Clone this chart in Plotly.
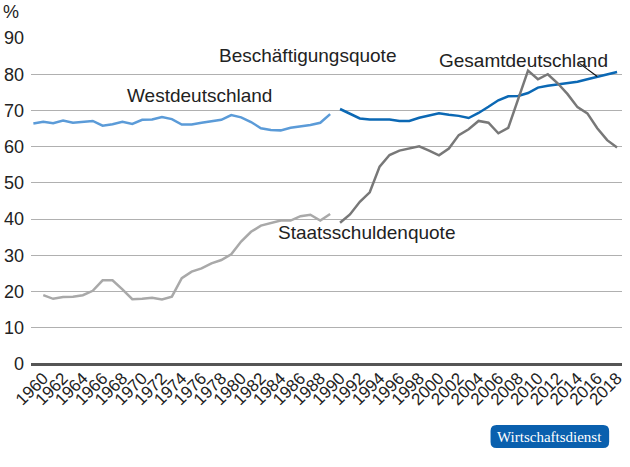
import plotly.graph_objects as go

# ---- data ----
years_west_emp = list(range(1959, 1990))
emp_west = [66.4, 66.9, 66.5, 67.2, 66.6, 66.9, 67.1, 65.8, 66.2, 66.9, 66.3, 67.4, 67.5, 68.2, 67.6,
            66.1, 66.1, 66.6, 67.0, 67.4, 68.7, 68.1, 66.8, 65.1, 64.6, 64.5, 65.2, 65.5, 66.0, 66.6, 69.0]

years_west_debt = list(range(1960, 1990))
debt_west = [19.0, 18.0, 18.5, 18.6, 19.0, 20.2, 23.1, 23.1, 20.6, 17.9, 18.0, 18.3, 17.8, 18.6, 23.7,
             25.5, 26.4, 27.8, 28.7, 30.3, 33.8, 36.5, 38.2, 39.0, 39.6, 39.6, 40.8, 41.2, 39.6, 41.4]

years_all = list(range(1990, 2019))
emp_all = [70.4, 69.2, 67.8, 67.5, 67.6, 67.5, 67.1, 67.1, 68.0, 68.7, 69.2, 68.8, 68.5, 67.9, 69.3,
           71.0, 72.8, 73.9, 74.0, 74.8, 76.3, 76.8, 77.1, 77.6, 77.9, 78.6, 79.3, 80.0, 80.6]
debt_all = [39.0, 41.3, 44.8, 47.4, 54.5, 57.7, 58.9, 59.5, 60.1, 58.9, 57.6, 59.5, 63.2, 64.8, 67.1,
            66.6, 63.7, 65.2, 72.9, 81.0, 78.6, 80.0, 77.5, 74.5, 70.9, 69.2, 65.1, 61.8, 59.8]

tick_years = list(range(1960, 2019, 2))
tick_labels = [str(y) for y in tick_years]

# ---- figure ----
W, H = 630, 467
ML, MR, MT, MB = 28, 4, 38, 103
TXT = "#222222"
FONT = "Liberation Sans, Arial, sans-serif"

fig = go.Figure()
fig.add_trace(go.Scatter(x=years_west_emp, y=emp_west, mode="lines",
                         line=dict(color="#5b9bd8", width=2.5), hoverinfo="skip"))
fig.add_trace(go.Scatter(x=years_west_debt, y=debt_west, mode="lines",
                         line=dict(color="#a9a9a9", width=2.5), hoverinfo="skip"))
fig.add_trace(go.Scatter(x=years_all, y=emp_all, mode="lines",
                         line=dict(color="#0b68b4", width=2.5), hoverinfo="skip"))
fig.add_trace(go.Scatter(x=years_all, y=debt_all, mode="lines",
                         line=dict(color="#787878", width=2.5), hoverinfo="skip"))

def ann(text, x, y, size=19, **kw):
    fig.add_annotation(text=text, x=x, y=y, xref="x", yref="y", showarrow=False,
                       font=dict(family=FONT, size=size, color=TXT), **kw)

ann("Beschäftigungsquote", 1986.7, 85.3)
ann("Westdeutschland", 1975.8, 74.0)
ann("Gesamtdeutschland", 2008.5, 83.9)
ann("Staatsschuldenquote", 1992.7, 36.2)

fig.add_shape(type="line", xref="x", yref="y", x0=2014.2, y0=83.0, x1=2016.0, y1=79.4,
              line=dict(color="#111111", width=1.2))

fig.add_annotation(text="%", xref="paper", yref="paper", x=-0.05, y=1.08,
                   xanchor="left", yanchor="middle", showarrow=False,
                   font=dict(family=FONT, size=18, color=TXT))

# logo (pixel -> paper helpers)
pw, ph = W - ML - MR, H - MT - MB
def px(x):
    return (x - ML) / pw
def py(y):
    return (H - MB - y) / ph

x0, x1, y0, y1, r = 493, 613, 425, 448, 6
path = (f"M {px(x0 + r)},{py(y0)} L {px(x1 - r)},{py(y0)} "
        f"Q {px(x1)},{py(y0)} {px(x1)},{py(y0 + r)} L {px(x1)},{py(y1 - r)} "
        f"Q {px(x1)},{py(y1)} {px(x1 - r)},{py(y1)} L {px(x0 + r)},{py(y1)} "
        f"Q {px(x0)},{py(y1)} {px(x0)},{py(y1 - r)} L {px(x0)},{py(y0 + r)} "
        f"Q {px(x0)},{py(y0)} {px(x0 + r)},{py(y0)} Z")
fig.add_shape(type="path", xref="paper", yref="paper", path=path,
              fillcolor="#0a60ae", line=dict(width=0))
fig.add_annotation(text="Wirtschaftsdienst", xref="paper", yref="paper",
                   x=px((x0 + x1) / 2), y=py((y0 + y1) / 2), showarrow=False,
                   xanchor="center", yanchor="middle",
                   font=dict(family="Liberation Serif, DejaVu Serif, serif", size=15, color="white"))

fig.update_layout(
    width=W, height=H, margin=dict(l=ML, r=MR, t=MT, b=MB, pad=0),
    paper_bgcolor="white", plot_bgcolor="white", showlegend=False,
    font=dict(family=FONT, color=TXT),
    xaxis=dict(range=[1958.76, 2018.5], tickmode="array", tickvals=tick_years, ticktext=tick_labels,
               tickangle=-45, tickfont=dict(size=17, color=TXT), showgrid=False, zeroline=False,
               showline=False, ticks=""),
    yaxis=dict(range=[0, 90], dtick=10, tick0=0, tickfont=dict(size=18, color=TXT),
               showgrid=True, gridcolor="#b0b0b0", gridwidth=1.2, zeroline=True,
               zerolinecolor="#555555", zerolinewidth=2.5, showline=False, ticks="",
               ticklabelstandoff=6),
)

fig.write_html("out.html")
